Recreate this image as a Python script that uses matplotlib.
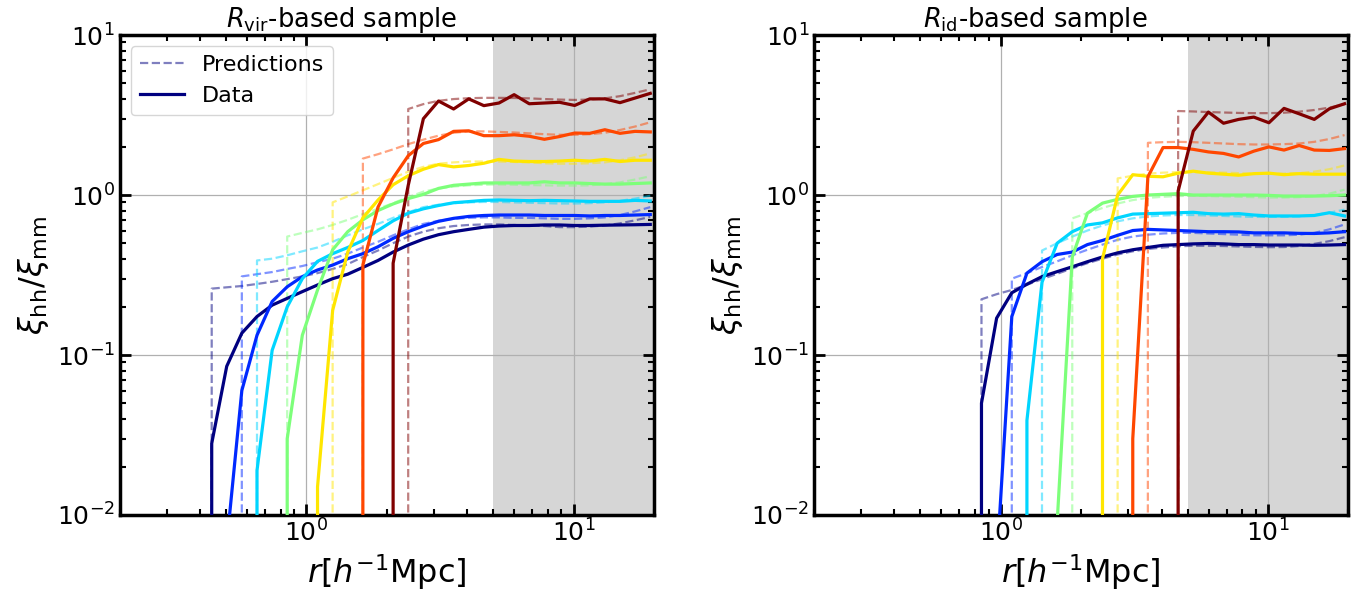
import matplotlib.pyplot as plt
import numpy as np
from matplotlib.lines import Line2D

# radial bins (h^-1 Mpc); every series below is right-aligned on this grid
r_bins = [0.388, 0.442, 0.503, 0.573, 0.653, 0.744, 0.847, 0.965, 1.100, 1.253,
          1.427, 1.626, 1.852, 2.110, 2.403, 2.738, 3.119, 3.553, 4.048, 4.611,
          5.253, 5.984, 6.817, 7.766, 8.847, 10.08, 11.48, 13.08, 14.90, 16.97, 19.34]

# R_vir-based sample: measured xi_hh / xi_mm
vir_data = [
    [0, 0.028, 0.085, 0.137, 0.174, 0.205, 0.226, 0.249, 0.274, 0.30, 0.32, 0.353, 0.39, 0.44, 0.487,
     0.53, 0.565, 0.59, 0.61, 0.63, 0.64, 0.645, 0.645, 0.65, 0.65, 0.645, 0.645, 0.648, 0.65, 0.652, 0.655],
    [0, 0.0066, 0.060, 0.133, 0.216, 0.267, 0.309, 0.34, 0.365, 0.40, 0.43, 0.475, 0.536, 0.59, 0.64,
     0.685, 0.715, 0.735, 0.745, 0.75, 0.75, 0.75, 0.745, 0.745, 0.745, 0.74, 0.745, 0.745, 0.75, 0.755],
    [0, 0.019, 0.107, 0.20, 0.30, 0.385, 0.43, 0.47, 0.52, 0.60, 0.69, 0.77, 0.82, 0.86, 0.895,
     0.91, 0.926, 0.931, 0.926, 0.922, 0.926, 0.922, 0.918, 0.913, 0.913, 0.913, 0.926, 0.918],
    [0, 0.030, 0.133, 0.255, 0.455, 0.59, 0.70, 0.80, 0.88, 0.95, 1.01, 1.10, 1.15, 1.17, 1.19,
     1.19, 1.19, 1.19, 1.21, 1.19, 1.19, 1.18, 1.17, 1.17, 1.18, 1.19],
    [0, 0.015, 0.19, 0.44, 0.72, 0.93, 1.16, 1.32, 1.45, 1.55, 1.50, 1.53, 1.58, 1.67, 1.63,
     1.62, 1.62, 1.63, 1.65, 1.63, 1.67, 1.62, 1.65, 1.65],
    [0, 0.365, 0.84, 1.28, 1.76, 2.10, 2.22, 2.50, 2.52, 2.35, 2.35, 2.38, 2.33, 2.23, 2.32,
     2.44, 2.43, 2.56, 2.43, 2.50, 2.48],
    [0, 0.375, 1.15, 3.0, 3.87, 3.45, 3.99, 3.62, 3.76, 4.24, 3.72, 3.76, 3.80, 3.63, 3.99,
     3.99, 3.78, 4.04, 4.32],
]

# R_vir-based sample: predictions
vir_pred = [
    [0, 0.26, 0.265, 0.27, 0.278, 0.287, 0.298, 0.31, 0.325, 0.345, 0.37, 0.41, 0.45, 0.50, 0.55,
     0.59, 0.62, 0.64, 0.65, 0.655, 0.655, 0.65, 0.645, 0.64, 0.63, 0.63, 0.635, 0.645, 0.665, 0.695, 0.73],
    [0, 0.31, 0.32, 0.33, 0.345, 0.36, 0.38, 0.40, 0.43, 0.47, 0.51, 0.56, 0.61, 0.66, 0.69,
     0.71, 0.72, 0.725, 0.725, 0.72, 0.72, 0.715, 0.71, 0.71, 0.715, 0.725, 0.75, 0.79, 0.84],
    [0, 0.39, 0.40, 0.42, 0.445, 0.47, 0.51, 0.56, 0.61, 0.66, 0.72, 0.78, 0.84, 0.87, 0.89,
     0.90, 0.905, 0.905, 0.90, 0.895, 0.89, 0.885, 0.885, 0.89, 0.90, 0.92, 0.95, 0.99],
    [0, 0.55, 0.58, 0.61, 0.65, 0.70, 0.76, 0.82, 0.89, 0.97, 1.05, 1.10, 1.13, 1.15, 1.16,
     1.165, 1.16, 1.155, 1.15, 1.145, 1.145, 1.15, 1.17, 1.20, 1.25, 1.31],
    [0, 0.90, 0.98, 1.07, 1.17, 1.28, 1.40, 1.50, 1.57, 1.60, 1.62, 1.62, 1.62, 1.61, 1.60,
     1.58, 1.57, 1.57, 1.58, 1.60, 1.65, 1.72, 1.82],
    [0, 1.69, 1.80, 1.93, 2.08, 2.22, 2.35, 2.45, 2.50, 2.50, 2.48, 2.46, 2.43, 2.40, 2.38,
     2.38, 2.40, 2.45, 2.55, 2.68, 2.85],
    [0, 3.45, 3.70, 3.88, 3.98, 4.03, 4.05, 4.05, 4.04, 4.02, 3.98, 3.95, 3.93, 3.95, 4.02,
     4.15, 4.35, 4.58],
]

# R_id-based sample: measured
id_data = [
    [0, 0.050, 0.17, 0.245, 0.277, 0.309, 0.332, 0.356, 0.383, 0.41, 0.435, 0.455, 0.47, 0.485, 0.49,
     0.495, 0.498, 0.495, 0.49, 0.49, 0.487, 0.487, 0.487, 0.485, 0.487, 0.49],
    [0, 0.0049, 0.174, 0.325, 0.383, 0.425, 0.44, 0.49, 0.52, 0.56, 0.60, 0.61, 0.605, 0.60, 0.595,
     0.59, 0.59, 0.588, 0.58, 0.58, 0.58, 0.576, 0.575, 0.58, 0.59],
    [0, 0.039, 0.285, 0.50, 0.59, 0.65, 0.67, 0.72, 0.76, 0.765, 0.77, 0.775, 0.78, 0.765, 0.76,
     0.765, 0.75, 0.74, 0.74, 0.74, 0.745, 0.775, 0.74],
    [0, 0.009, 0.41, 0.77, 0.89, 0.94, 0.98, 1.0, 1.01, 1.02, 1.0, 1.0, 1.0, 1.0, 1.0,
     0.995, 0.985, 0.985, 0.985, 0.99, 1.0],
    [0, 0.40, 1.0, 1.34, 1.31, 1.30, 1.37, 1.41, 1.37, 1.35, 1.33, 1.36, 1.37, 1.34, 1.36,
     1.35, 1.35, 1.35],
    [0, 0.030, 1.30, 1.98, 1.98, 1.93, 1.86, 1.82, 1.73, 1.88, 2.0, 1.91, 2.04, 1.91, 1.90, 1.95],
    [0, 1.06, 2.51, 3.30, 2.81, 2.97, 3.07, 2.83, 3.48, 3.22, 2.97, 3.46, 3.72],
]

# R_id-based sample: predictions
id_pred = [
    [0, 0.223, 0.24, 0.255, 0.275, 0.298, 0.322, 0.348, 0.375, 0.40, 0.425, 0.445, 0.46, 0.47, 0.478,
     0.482, 0.482, 0.48, 0.477, 0.474, 0.472, 0.473, 0.48, 0.495, 0.515, 0.545],
    [0, 0.30, 0.325, 0.355, 0.385, 0.42, 0.455, 0.49, 0.525, 0.55, 0.565, 0.575, 0.58, 0.58, 0.575,
     0.57, 0.565, 0.56, 0.56, 0.56, 0.565, 0.58, 0.61, 0.655],
    [0, 0.45, 0.50, 0.55, 0.60, 0.645, 0.685, 0.715, 0.735, 0.745, 0.75, 0.75, 0.745, 0.74, 0.735,
     0.73, 0.73, 0.73, 0.735, 0.75, 0.775, 0.81],
    [0, 0.715, 0.77, 0.83, 0.885, 0.93, 0.96, 0.975, 0.985, 0.99, 0.985, 0.98, 0.975, 0.97, 0.965,
     0.965, 0.97, 0.985, 1.02, 1.08],
    [0, 1.27, 1.32, 1.36, 1.38, 1.39, 1.39, 1.385, 1.38, 1.37, 1.36, 1.355, 1.36, 1.37, 1.40,
     1.45, 1.53],
    [0, 2.12, 2.14, 2.15, 2.14, 2.12, 2.10, 2.08, 2.07, 2.07, 2.08, 2.10, 2.15, 2.24, 2.37],
    [0, 3.35, 3.33, 3.30, 3.28, 3.26, 3.25, 3.25, 3.27, 3.32, 3.40, 3.52, 3.70],
]

panel_titles = [r"$R_{\rm vir}$-based sample", r"$R_{\rm id}$-based sample"]

colors = plt.cm.jet(np.linspace(0, 1, 7))

fig = plt.figure(figsize=(13.6, 5.94), dpi=100)
ax_l = fig.add_axes([0.088, 0.133, 0.393, 0.808])
ax_r = fig.add_axes([0.5985, 0.133, 0.393, 0.808])

for ax, data, pred, title in [(ax_l, vir_data, vir_pred, panel_titles[0]),
                              (ax_r, id_data, id_pred, panel_titles[1])]:
    ax.set_xscale("log")
    ax.set_yscale("log", nonpositive="clip")
    ax.axvspan(5, 20, color="#d6d6d6", lw=0, zorder=1)

    for c, vals in zip(colors, pred):
        ax.plot(r_bins[-len(vals):], vals, ls="--", lw=1.6, color=c, alpha=0.5, zorder=2)
    for c, vals in zip(colors, data):
        ax.plot(r_bins[-len(vals):], vals, ls="-", lw=2.3, color=c, zorder=3)

    ax.set_xlim(0.2, 20)
    ax.set_ylim(1e-2, 1e1)
    ax.grid(True, which="major", color="#b0b0b0", lw=0.9)
    ax.tick_params(which="both", direction="in", top=True, right=True, labelsize=18)
    ax.tick_params(which="major", length=8, width=2)
    ax.tick_params(which="minor", length=4, width=1.5)
    for sp in ax.spines.values():
        sp.set_linewidth(2.5)
    ax.set_xlabel(r"$r[h^{-1}{\rm Mpc}]$", fontsize=23)
    ax.set_ylabel(r"$\xi_{\rm hh}/\xi_{\rm mm}$", fontsize=23)
    ax.set_title(title, fontsize=18.5, pad=3, x=0.415)

handles = [Line2D([], [], ls="--", lw=1.6, color=colors[0], alpha=0.5),
           Line2D([], [], ls="-", lw=2.3, color=colors[0])]
ax_l.legend(handles, ["Predictions", "Data"], loc="upper left", fontsize=16)

fig.savefig("out.png", dpi=100)
